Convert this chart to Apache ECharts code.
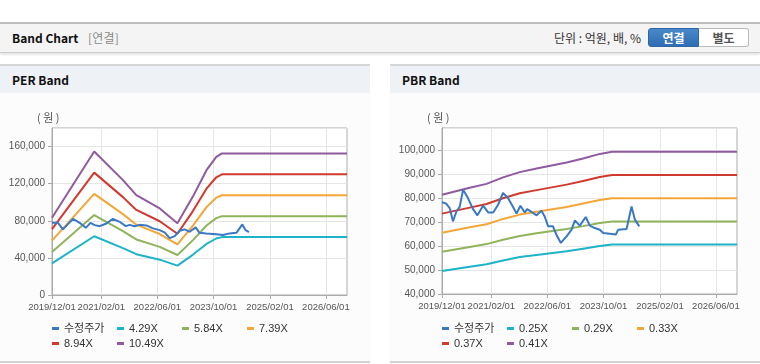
<!DOCTYPE html>
<html><head><meta charset="utf-8">
<script src="https://cdn.jsdelivr.net/npm/echarts@6/dist/echarts.min.js"></script>
<style>
html,body{margin:0;padding:0;background:#fff;}
body{width:760px;height:364px;position:relative;overflow:hidden;font-family:'Noto Sans CJK KR','Liberation Sans',sans-serif;}
.hdr{position:absolute;left:0;top:22px;width:760px;height:28px;background:#f4f4f4;border-top:2px solid #bdbdbd;border-bottom:1px solid #cdcdcd;box-shadow:0 2px 2px rgba(0,0,0,0.10);}
.ttl{position:absolute;left:12px;top:0;line-height:28px;font-size:12px;font-weight:bold;color:#111;}
.sub{position:absolute;left:88px;top:0;line-height:28px;font-size:12px;color:#8a8a8a;letter-spacing:0.2px;}
.unit{position:absolute;right:119px;top:0;line-height:28px;font-size:12px;color:#333;}
.btn{position:absolute;top:4px;height:17px;width:49px;line-height:17px;text-align:center;font-size:12px;font-weight:bold;}
.b1{left:648px;background:linear-gradient(#4a88cc,#2f6db2);color:#fff;border:1px solid #2f66a8;border-radius:3px 0 0 3px;}
.b2{left:699px;background:#fff;color:#555;border:1px solid #bbb;border-left:none;border-radius:0 3px 3px 0;}
.panel{position:absolute;top:64px;width:370px;height:295px;background:#fcfcfc;border-top:2px solid #d6d6d6;border-bottom:2px solid #d2d2d2;}
.bar{position:absolute;left:0;top:0;width:370px;height:27px;background:#eef2f7;}
.bar span{position:absolute;left:12px;top:0;line-height:28px;font-size:12px;font-weight:bold;color:#111;}
#chart{position:absolute;left:0;top:0;width:760px;height:364px;}
</style></head>
<body>
<div class="hdr"><span class="ttl">Band Chart</span><span class="sub">[연결]</span><span class="unit">단위 : 억원, 배, %</span><div class="btn b1">연결</div><div class="btn b2">별도</div></div>
<div class="panel" style="left:0"><div class="bar"><span>PER Band</span></div></div>
<div class="panel" style="left:390px"><div class="bar"><span>PBR Band</span></div></div>
<div id="chart"></div>
<script>
// ---- data ----
const xStartDate = '2019-12-01';
const xEndDate = '2026-12-01';
const xTickLabels = ['2019/12/01','2021/02/01','2022/06/01','2023/10/01','2025/02/01','2026/06/01'];

// legend columns (top row, bottom row)
const perLegendCols = [['수정주가','8.94X'], ['4.29X','10.49X'], ['5.84X'], ['7.39X']];
const pbrLegendCols = [['수정주가','0.37X'], ['0.25X','0.41X'], ['0.29X'], ['0.33X']];

const perBandDates = ['2019-12-01','2020-12-01','2021-08-07','2021-12-01','2022-06-22','2022-11-22','2023-04-04','2023-08-01','2023-10-25','2023-12-13','2026-12-01'];
const per429 = [34000, 63300, 50600, 44000, 38100, 31700, 43300, 55000, 60900, 62400, 62400];
const per584 = [46300, 86100, 68900, 59900, 51900, 43100, 58900, 74900, 82900, 85000, 85000];
const per739 = [58600, 109000, 87200, 75800, 65700, 54500, 74600, 94700, 104900, 107500, 107500];
const per894 = [70900, 131900, 105500, 91700, 79500, 66000, 90200, 114600, 126900, 130100, 130100];
const per1049 = [83200, 154700, 123800, 107600, 93300, 77400, 105800, 134500, 148900, 152600, 152600];

const perPriceDates = ['2019-12-01','2020-01-22','2020-03-05','2020-05-31','2020-07-28','2020-09-19','2020-10-29','2020-12-06','2021-01-18','2021-03-16','2021-05-12','2021-07-09','2021-08-31','2021-10-04','2021-11-17','2021-12-30','2022-02-27','2022-04-24','2022-06-21','2022-08-03','2022-09-16','2022-10-30','2022-12-12','2023-01-25','2023-03-08','2023-04-29','2023-06-02','2023-07-30','2023-10-25','2023-12-22','2024-02-18','2024-04-16','2024-06-07','2024-07-05','2024-08-03'];
const perPrice = [77800, 77800, 70700, 82100, 77800, 72400, 77800, 75300, 74200, 77100, 82100, 78900, 74200, 75600, 74200, 75600, 75000, 71800, 69900, 67500, 61300, 63500, 69200, 70700, 68100, 72900, 67000, 66400, 65600, 64600, 66400, 67000, 76100, 69900, 67800];

const pbrBandDates = ['2019-12-01','2020-07-28','2020-12-21','2021-05-13','2021-10-05','2022-02-28','2022-11-15','2023-04-07','2023-08-30','2023-12-15','2026-12-01'];
const pbr025 = [49600, 51400, 52400, 54000, 55400, 56300, 57800, 58900, 60000, 60600, 60600];
const pbr029 = [57600, 59600, 60800, 62600, 64200, 65300, 67100, 68300, 69600, 70200, 70200];
const pbr033 = [65500, 67800, 69100, 71300, 73100, 74300, 76300, 77700, 79200, 79900, 79900];
const pbr037 = [73500, 76000, 77500, 79900, 82000, 83300, 85600, 87100, 88800, 89600, 89600];
const pbr041 = [81400, 84300, 85900, 88600, 90800, 92300, 94800, 96500, 98400, 99300, 99300];

const pbrPriceDates = ['2019-12-01','2020-01-08','2020-02-06','2020-03-05','2020-04-04','2020-05-02','2020-06-01','2020-07-13','2020-08-26','2020-10-03','2020-11-21','2021-01-04','2021-02-17','2021-03-31','2021-05-13','2021-06-25','2021-08-08','2021-09-07','2021-10-11','2021-11-17','2021-12-08','2022-01-15','2022-02-28','2022-04-11','2022-05-09','2022-06-08','2022-07-20','2022-08-19','2022-09-26','2022-11-15','2022-12-28','2023-01-26','2023-03-09','2023-04-30','2023-06-04','2023-07-17','2023-08-30','2023-09-28','2023-11-25','2024-01-16','2024-02-05','2024-04-18','2024-05-31','2024-06-29','2024-08-06'];
const pbrPrice = [78300, 77600, 75800, 70300, 74400, 76300, 83500, 80000, 75400, 72800, 76800, 74000, 74000, 77200, 82100, 80000, 76300, 73500, 76800, 74000, 75400, 74200, 72800, 74700, 72300, 68200, 68200, 64700, 61300, 64000, 66800, 70700, 68500, 72100, 68500, 67500, 66800, 65400, 65100, 64800, 66800, 67100, 76500, 71000, 68200];

// ---- build ----
const COLORS = {price:'#3a78c4', c1:'#1db3c8', c2:'#8fb45a', c3:'#f4a637', c4:'#d0392e', c5:'#8f5a9f'};
function toTs(s){ const p = s.split(/[-\/]/); return new Date(+p[0], +p[1]-1, +p[2]).getTime(); }
const tickTs = xTickLabels.map(toTs);
function pad(n){ return (n<10?'0':'')+n; }
function fmtDate(v){ const d = new Date(v); return d.getFullYear()+'/'+pad(d.getMonth()+1)+'/'+pad(d.getDate()); }
function zip(ds, vs){ return ds.map((d,i)=>[toTs(d), vs[i]]); }

const axisFont = "'Liberation Sans',Arial,sans-serif";
const legFont = "'Liberation Sans','Noto Sans CJK KR',Arial,sans-serif";
const labelBase = {formatter:fmtDate, color:'#555', fontSize:9.5, fontFamily:axisFont, margin:7, hideOverlap:false};

// main x axis: line, ticks, grid lines, labels except the first
function xAxisCfg(g){
  return {type:'value', gridIndex:g, position:'bottom', offset:0, min:toTs(xStartDate), max:toTs(xEndDate), scale:true,
    axisLine:{show:true, lineStyle:{color:'#ababab', width:1}},
    axisTick:{show:true, customValues:tickTs, length:4, lineStyle:{color:'#ababab'}},
    axisLabel:Object.assign({customValues:tickTs.slice(1)}, labelBase),
    splitLine:{show:true, lineStyle:{color:'#e6e6e6', width:1}}};
}
// companion axis carrying only the first date label (avoids min-label overlap culling)
function xAxisFirstLabel(g){
  return {type:'value', gridIndex:g, position:'bottom', offset:0, min:toTs(xStartDate), max:toTs(xEndDate), scale:true,
    axisLine:{show:false}, axisTick:{show:false}, splitLine:{show:false},
    axisLabel:Object.assign({customValues:tickTs.slice(0,1), showMinLabel:true}, labelBase)};
}
function yAxisCfg(g, mn, mx, iv){
  return {type:'value', gridIndex:g, min:mn, max:mx, interval:iv,
    axisLine:{show:true, lineStyle:{color:'#ababab'}},
    axisTick:{show:true, length:4, lineStyle:{color:'#ababab'}},
    axisLabel:{showMaxLabel:false, color:'#555', fontSize:10, fontFamily:axisFont, margin:7},
    splitLine:{show:true, lineStyle:{color:'#e6e6e6'}}};
}
function line(name, data, color, g, z){
  return {type:'line', name, data, xAxisIndex:g, yAxisIndex:g, color, showSymbol:false, symbol:'none',
    lineStyle:{color, width:2}, z:z||2, animation:false, silent:true};
}
function legendCols(left0, cols){
  return cols.map((data, i) => ({left:left0 + i*65, top:322, data, orient:'vertical', padding:0,
    icon:'rect', itemWidth:7, itemHeight:3, itemGap:2, selectedMode:false,
    textStyle:{fontSize:11, color:'#333', fontFamily:legFont, lineHeight:13}}));
}

const chart = echarts.init(document.getElementById('chart'), null, {renderer:'canvas'});
chart.setOption({
  animation:false,
  backgroundColor:'transparent',
  grid:[
    {left:52, top:128, width:295, height:167, show:true, borderColor:'#adadad', borderWidth:1, backgroundColor:'#fff'},
    {left:442, top:128, width:295, height:166, show:true, borderColor:'#adadad', borderWidth:1, backgroundColor:'#fff'}
  ],
  xAxis:[xAxisCfg(0), xAxisCfg(1), xAxisFirstLabel(0), xAxisFirstLabel(1)],
  yAxis:[yAxisCfg(0, 0, 180000, 40000), yAxisCfg(1, 40000, 109200, 10000)],
  legend: legendCols(52, perLegendCols).concat(legendCols(442, pbrLegendCols)),
  graphic:[
    {type:'text', left:37, top:112, style:{text:'( 원 )', font:"11px 'Noto Sans CJK KR'", fill:'#555'}},
    {type:'text', left:427, top:112, style:{text:'( 원 )', font:"11px 'Noto Sans CJK KR'", fill:'#555'}}
  ],
  series:[
    line('4.29X', zip(perBandDates, per429), COLORS.c1, 0),
    line('5.84X', zip(perBandDates, per584), COLORS.c2, 0),
    line('7.39X', zip(perBandDates, per739), COLORS.c3, 0),
    line('8.94X', zip(perBandDates, per894), COLORS.c4, 0),
    line('10.49X', zip(perBandDates, per1049), COLORS.c5, 0),
    line('수정주가', zip(perPriceDates, perPrice), COLORS.price, 0, 3),
    line('0.25X', zip(pbrBandDates, pbr025), COLORS.c1, 1),
    line('0.29X', zip(pbrBandDates, pbr029), COLORS.c2, 1),
    line('0.33X', zip(pbrBandDates, pbr033), COLORS.c3, 1),
    line('0.37X', zip(pbrBandDates, pbr037), COLORS.c4, 1),
    line('0.41X', zip(pbrBandDates, pbr041), COLORS.c5, 1),
    line('수정주가', zip(pbrPriceDates, pbrPrice), COLORS.price, 1, 3)
  ]
});
</script>
</body></html>
